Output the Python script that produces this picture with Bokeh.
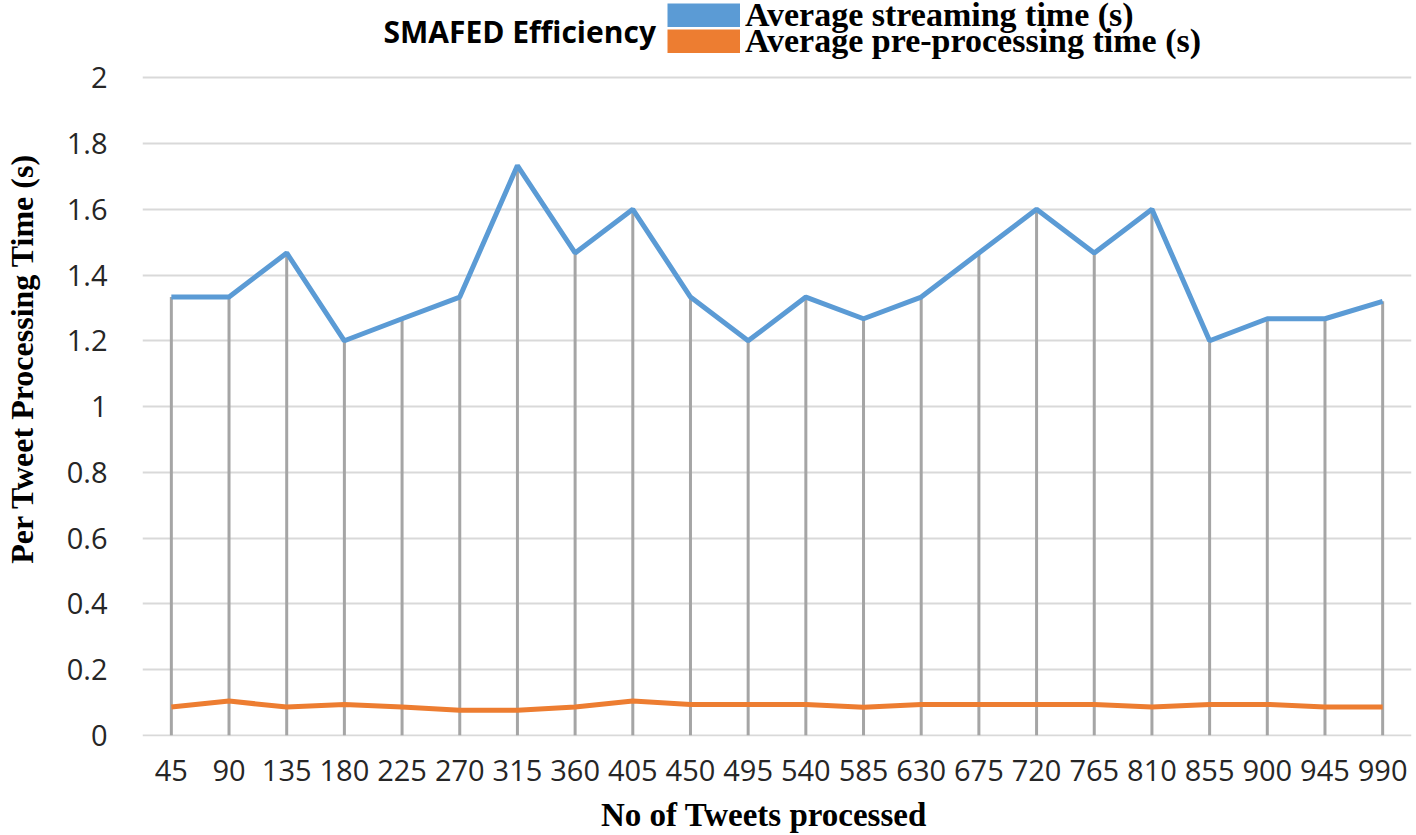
import math
from bokeh.plotting import figure
from bokeh.layouts import row, column
from bokeh.models import (FactorRange, Range1d, FixedTicker, CustomJSTickFormatter,
                          Legend, LegendItem, Label, ColumnDataSource)
from bokeh.embed import file_html
from bokeh.resources import INLINE

# ---- data ----
tweets = ["45", "90", "135", "180", "225", "270", "315", "360", "405", "450", "495",
          "540", "585", "630", "675", "720", "765", "810", "855", "900", "945", "990"]
streaming = [1.333, 1.333, 1.467, 1.2, 1.267, 1.333, 1.733, 1.467, 1.6, 1.333, 1.2,
             1.333, 1.267, 1.333, 1.467, 1.6, 1.467, 1.6, 1.2, 1.267, 1.267, 1.32]
preprocessing = [0.086, 0.104, 0.086, 0.094, 0.086, 0.076, 0.076, 0.086, 0.104, 0.094, 0.094,
                 0.094, 0.085, 0.094, 0.094, 0.094, 0.094, 0.086, 0.094, 0.094, 0.086, 0.086]
y_ticks = [0, 0.2, 0.4, 0.6, 0.8, 1.0, 1.2, 1.4, 1.6, 1.8, 2.0]

title_text = "SMAFED Efficiency"
series_names = ["Average streaming time (s)", "Average pre-processing time (s)"]
x_title = "No of Tweets processed"
y_title = "Per Tweet Processing Time (s)"

BLUE = "#5b9bd5"
ORANGE = "#ed7d31"
SERIF = "Liberation Serif"

W_LEFT = 60      # width of the strip holding the y title
H_FOOT = 37      # height of the strip holding the x title
W_TOTAL, H_TOTAL = 1416, 835

src = ColumnDataSource(dict(x=tweets, s=streaming, p=preprocessing, z=[0] * len(tweets)))


def text_strip(width, height, x_rng, y_rng):
    f = figure(width=width, height=height, output_backend="svg", toolbar_location=None,
               x_range=Range1d(*x_rng), y_range=Range1d(*y_rng),
               x_axis_location=None, y_axis_location=None,
               min_border=0, min_border_left=0, min_border_right=0,
               min_border_top=0, min_border_bottom=0)
    f.grid.visible = False
    f.outline_line_color = None
    f.background_fill_color = "white"
    f.border_fill_color = "white"
    return f


p = figure(width=W_TOTAL - W_LEFT, height=H_TOTAL - H_FOOT, output_backend="svg",
           toolbar_location=None,
           x_range=FactorRange(*tweets, range_padding=0),
           y_range=Range1d(-0.00365, 2.235),
           min_border_left=142 - W_LEFT, min_border_right=5, min_border_top=0,
           min_border_bottom=(H_TOTAL - H_FOOT) - 736)
p.outline_line_color = None
p.background_fill_color = "white"
p.border_fill_color = "white"

# grid
p.xgrid.grid_line_color = None
p.ygrid.grid_line_color = "#d9d9d9"
p.ygrid.grid_line_width = 2
p.yaxis.ticker = FixedTicker(ticks=y_ticks)
p.yaxis.formatter = CustomJSTickFormatter(code="return tick.toFixed(1).replace(/\\.0$/, '');")

for ax in (p.xaxis, p.yaxis):
    ax.axis_line_color = None
    ax.major_tick_line_color = None
    ax.minor_tick_line_color = None
    ax.major_label_text_font = "Open Sans"
    ax.major_label_text_font_size = "29px"
    ax.major_label_text_color = "#262626"
p.xaxis.major_label_standoff = 17
p.yaxis.major_label_standoff = 29

# drop lines
p.segment(x0="x", y0="z", x1="x", y1="s", source=src, line_color="#a5a5a5", line_width=3)
# series
p.line(x="x", y="s", source=src, line_color=BLUE, line_width=5)
p.line(x="x", y="p", source=src, line_color=ORANGE, line_width=5)

# legend swatches: hidden wide-line copies of the series, used only by the legends
d1 = p.line(x="x", y="s", source=src, line_color=BLUE, line_width=24, line_cap="butt",
            visible=False)
d2 = p.line(x="x", y="p", source=src, line_color=ORANGE, line_width=24, line_cap="butt",
            visible=False)

for r, name, loc in ((d1, series_names[0], (525, 702)), (d2, series_names[1], (525, 676))):
    lg = Legend(items=[LegendItem(label=name, renderers=[r])], location=loc,
                glyph_width=73, glyph_height=24, label_standoff=5, padding=0, margin=0,
                spacing=0, border_line_color=None, background_fill_alpha=0,
                inactive_fill_alpha=0, click_policy="none",
                label_text_font=SERIF, label_text_font_style="bold",
                label_text_font_size="34px", label_text_color="black")
    p.add_layout(lg)

p.add_layout(Label(x=383 - W_LEFT, y=31, x_units="canvas", y_units="canvas", text=title_text,
                   text_font="Open Sans", text_font_style="bold", text_font_size="30px",
                   text_color="black", text_align="left", text_baseline="middle"))

# y title strip (coordinates = page pixels)
yfig = text_strip(W_LEFT, H_TOTAL, (0, W_LEFT), (H_TOTAL, 0))
yfig.add_layout(Label(x=21, y=358, text=y_title, angle=math.pi / 2,
                      text_font=SERIF, text_font_style="bold", text_font_size="32px",
                      text_color="black", text_align="center", text_baseline="middle"))

# x title strip
xfig = text_strip(W_TOTAL - W_LEFT, H_FOOT, (W_LEFT, W_TOTAL), (H_TOTAL, H_TOTAL - H_FOOT))
xfig.add_layout(Label(x=724, y=814, text=x_title,
                      text_font=SERIF, text_font_style="bold", text_font_size="33px",
                      text_color="black", text_align="center", text_baseline="middle"))

layout = row(yfig, column(p, xfig, spacing=0), spacing=0)
open("out.html", "w").write(file_html(layout, INLINE))
